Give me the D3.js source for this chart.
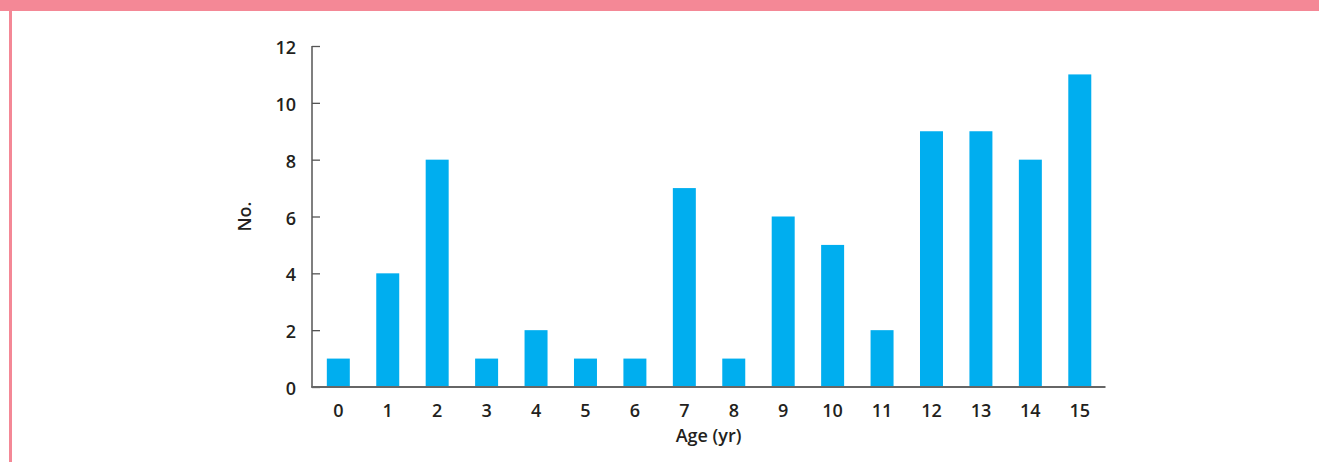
<!DOCTYPE html>
<html><head><meta charset="utf-8">
<script src="https://cdn.jsdelivr.net/npm/d3@7/dist/d3.min.js"></script>
<style>body{margin:0;background:#fff;} svg{display:block;}</style>
</head><body>
<script>
const categories = ["0","1","2","3","4","5","6","7","8","9","10","11","12","13","14","15"];
const counts = [1,4,8,1,2,1,1,7,1,6,5,2,9,9,8,11];
const yTicks = [0,2,4,6,8,10,12];
const xTitle = "Age (yr)";
const yTitle = "No.";

const W = 1319, H = 462;
const svg = d3.select("body").append("svg").attr("width", W).attr("height", H);
const font = "'Open Sans', sans-serif";
const txt = "#231f20";
const fs = 18;

// header band and left border
svg.append("rect").attr("x",0).attr("y",0).attr("width",W).attr("height",11).attr("fill","#f48896");
svg.append("rect").attr("x",9).attr("y",11).attr("width",3).attr("height",H-11).attr("fill","#f48896");

const x = d3.scaleBand().domain(categories).range([313.6, 1104.5]).padding(0);
const y = d3.scaleLinear().domain([0,12]).range([387, 46]);
const barW = x.bandwidth()*0.465;

svg.selectAll("rect.bar").data(counts).join("rect").attr("class","bar")
  .attr("x",(d,i)=>x(categories[i]) + (x.bandwidth()-barW)/2)
  .attr("y",d=>y(d)).attr("width",barW).attr("height",d=>y(0)-y(d))
  .attr("fill","#00aeef");

// y axis
const yAxis = svg.append("g").attr("transform","translate(312,0)")
  .call(d3.axisRight(y).tickValues(yTicks).tickSize(8).tickFormat(""));
yAxis.select(".domain").remove();
yAxis.selectAll("line").attr("stroke","#555").attr("stroke-width",1.3);
svg.append("line").attr("x1",312).attr("x2",312).attr("y1",46).attr("y2",387.5)
  .attr("stroke","#555").attr("stroke-width",1.5);
svg.selectAll("text.yt").data(yTicks).join("text").attr("class","yt")
  .attr("x",296).attr("y",d=>y(d)+8).attr("text-anchor","end")
  .attr("font-family",font).attr("font-weight",600).attr("font-size",fs).attr("fill",txt)
  .text(d=>d);

// x axis
const xAxis = svg.append("g").attr("transform","translate(0,387)")
  .call(d3.axisBottom(x).tickSize(0));
xAxis.select(".domain").remove();
svg.append("line").attr("x1",311.3).attr("x2",1105.5).attr("y1",387).attr("y2",387)
  .attr("stroke","#666").attr("stroke-width",2);
xAxis.selectAll("text").attr("font-family",font).attr("font-weight",600)
  .attr("font-size",fs).attr("fill",txt).attr("dy",null).attr("y",29.7);

svg.append("text").attr("x",708.5).attr("y",442).attr("text-anchor","middle")
  .attr("font-family",font).attr("font-weight",600).attr("font-size",fs).attr("fill",txt)
  .text(xTitle);
svg.append("text").attr("transform","translate(251,216.5) rotate(-90)").attr("text-anchor","middle")
  .attr("font-family",font).attr("font-weight",600).attr("font-size",fs).attr("fill",txt)
  .text(yTitle);
</script>
</body></html>
